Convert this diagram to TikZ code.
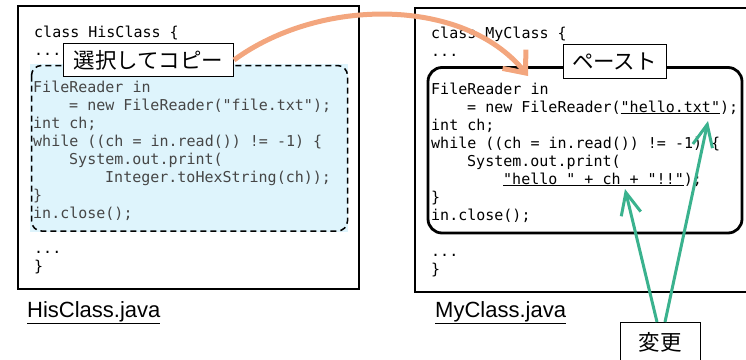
\documentclass[tikz,border=0pt]{standalone}
\usepackage{fontspec}
\setmainfont{Liberation Sans}
\setmonofont{DejaVu Sans Mono}
\newfontfamily\jpfont{Noto Sans CJK JP}
\usetikzlibrary{arrows.meta}
\definecolor{selblue}{RGB}{222,244,252}
\definecolor{pasteorange}{RGB}{243,166,126}
\definecolor{changegreen}{RGB}{58,178,142}
\definecolor{codegray}{RGB}{70,70,70}
\newcommand{\mycodefont}{\fontsize{15}{18}\selectfont\ttfamily}
\begin{document}
\begin{tikzpicture}[x=1pt,y=-1pt,
  code/.style={anchor=base west, inner sep=0pt, font=\mycodefont},
  selcode/.style={code, text=codegray},
  jplabel/.style={draw=black, line width=1pt, fill=white, inner sep=0pt, font=\fontsize{21.5}{24}\selectfont\jpfont},
  filename/.style={anchor=base west, inner sep=0pt, font=\fontsize{22}{26}\selectfont},
  filebox/.style={draw=black, line width=1.2pt},
  greenarrow/.style={changegreen, line width=3pt, -{Straight Barb[length=22pt,width=20pt]}},
  orangearrow/.style={pasteorange, line width=5pt, -{Straight Barb[length=18pt,width=30pt]}},
]
\useasboundingbox (0,0) rectangle (746,359);
\clip (0,0) rectangle (746,359);

% left file
\draw[filebox] (18,6) rectangle (359,289);
\fill[selblue] (30,64) rectangle (348,232);
\draw[line width=1.5pt, dash pattern=on 6pt off 4pt, rounded corners=10pt] (31.5,65.5) rectangle (347.5,231);

\node[code] (l1) at (34,37) {class HisClass \{};
\node[code] (l2) at (34,55) {...};
\node[selcode] (l3) at (33,92) {FileReader in};
\node[selcode] (l4) at (69,110) {= new FileReader("file.txt");};
\node[selcode] (l5) at (33,128) {int ch;};
\node[selcode] (l6) at (33,146) {while ((ch = in.read()) != -1) \{};
\node[selcode] (l7) at (69,164) {System.out.print(};
\node[selcode] (l8) at (105,182) {Integer.toHexString(ch));};
\node[selcode] (l9) at (33,200) {\}};
\node[selcode] (l10) at (33,218) {in.close();};
\node[code] (l11) at (34,253) {...};
\node[code] (l12) at (34,271) {\}};
\node[filename] (hisname) at (27,317) {\underline{HisClass.java}};

% right file
\draw[filebox] (415,8) rectangle (770,292);
\draw[line width=2.8pt, rounded corners=14pt] (428,67.5) rectangle (742,233);

\node[code] (r1) at (431,38) {class MyClass \{};
\node[code] (r2) at (431,56) {...};
\node[code] (r3) at (431,94) {FileReader in};
\node[code] (r4) at (467,112) {= new FileReader(\underline{"hello.txt"});};
\node[code] (r5) at (431,130) {int ch;};
\node[code] (r6) at (431,148) {while ((ch = in.read()) != -1) \{};
\node[code] (r7) at (467,166) {System.out.print(};
\node[code] (r8) at (503,184) {\underline{"hello " + ch + "!!"});};
\node[code] (r9) at (431,202) {\}};
\node[code] (r10) at (431,220) {in.close();};
\node[code] (r11) at (431,256) {...};
\node[code] (r12) at (431,274) {\}};
\node[filename] (myname) at (435,317) {\underline{MyClass.java}};

% labels and arrows
\coordinate (pastetip) at (528,76);
\node[jplabel, minimum width=170pt, minimum height=33pt] (copy) at (148.5,60) {選択してコピー};
\draw[orangearrow] (copy.east) .. controls (320,-3) and (464,-3) .. (pastetip);
\node[jplabel, minimum width=103pt, minimum height=34pt] (paste) at (614.5,61) {ペースト};

\node[jplabel, minimum width=80pt, minimum height=40pt, anchor=north] (change) at (660,322) {変更};
\coordinate (tiptxt) at (708,121);
\coordinate (tiphello) at (625,189);
\draw[greenarrow] ([xshift=-3pt]change.north) -- (tiphello);
\draw[greenarrow] ([xshift=5pt]change.north) -- (tiptxt);
\end{tikzpicture}
\end{document}
